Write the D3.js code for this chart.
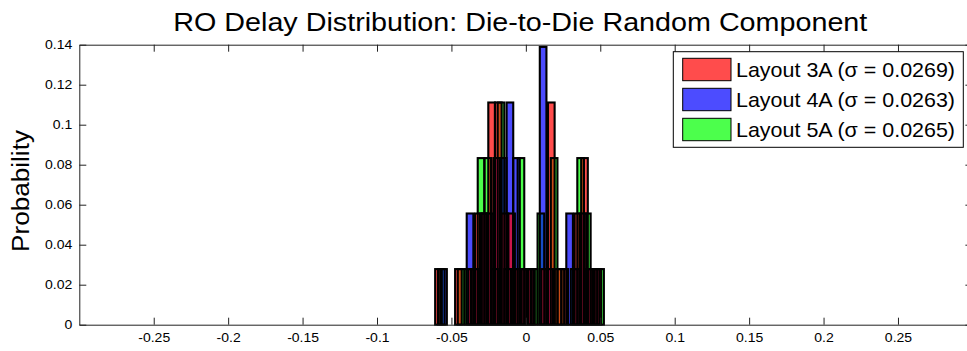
<!DOCTYPE html>
<html>
<head>
<meta charset="utf-8">
<script src="https://cdn.jsdelivr.net/npm/d3@7"></script>
<style>
  html, body { margin: 0; padding: 0; background: #fff; }
  svg { display: block; font-family: "Liberation Sans", Arial, Helvetica, sans-serif; }
</style>
</head>
<body>
<svg id="chart" width="967" height="351"></svg>
<script>
// ---- chart text ----
const titleText = "RO Delay Distribution: Die-to-Die Random Component";
const yLabelText = "Probability";
const seriesNames = ["Layout 3A (\u03c3 = 0.0269)", "Layout 4A (\u03c3 = 0.0263)", "Layout 5A (\u03c3 = 0.0265)"];
const seriesColors = ["#ff0000", "#0000ff", "#00ff00"];

// ---- axis ticks ----
const xTicks = [-0.25, -0.2, -0.15, -0.1, -0.05, 0, 0.05, 0.1, 0.15, 0.2, 0.25];
const yTicks = [0, 0.02, 0.04, 0.06, 0.08, 0.1, 0.12, 0.14];

// ---- histogram bins (bin centre, probability) for each layout ----
const binWidth = 0.00446;

const centers3A = [-0.0587, -0.0453, -0.0364, -0.0319, -0.0275, -0.0230, -0.0185, -0.0141, -0.0096, -0.0052,
                   -0.0007, 0.0038, 0.0127, 0.0171, 0.0216, 0.0261, 0.0350, 0.0394, 0.0439, 0.0484];
const prob3A    = [0.0278, 0.0278, 0.0278, 0.0556, 0.0556, 0.1111, 0.1111, 0.0556, 0.0556, 0.0278,
                   0.0278, 0.0278, 0.0278, 0.1111, 0.0278, 0.0278, 0.0556, 0.0833, 0.0278, 0.0278];

const centers4A = [-0.0553, -0.0375, -0.0330, -0.0286, -0.0241, -0.0196, -0.0152, -0.0107, -0.0063,
                   -0.0018, 0.0027, 0.0116, 0.0160, 0.0294, 0.0339, 0.0383, 0.0428, 0.0473];
const prob4A    = [0.0278, 0.0556, 0.0278, 0.0556, 0.0556, 0.0833, 0.0833, 0.1111, 0.0833,
                   0.0278, 0.0278, 0.1389, 0.0278, 0.0556, 0.0278, 0.0556, 0.0278, 0.0278];

const centers5A = [-0.0568, -0.0435, -0.0390, -0.0345, -0.0301, -0.0256, -0.0211, -0.0167, -0.0122, -0.0078,
                   -0.0033, 0.0012, 0.0056, 0.0101, 0.0190, 0.0235, 0.0324, 0.0368, 0.0413, 0.0458, 0.0502];
const prob5A    = [0.0278, 0.0278, 0.0278, 0.0278, 0.0833, 0.0833, 0.0278, 0.1111, 0.0278, 0.0278,
                   0.0833, 0.0278, 0.0278, 0.0556, 0.0833, 0.0278, 0.0278, 0.0833, 0.0556, 0.0278, 0.0278];

const seriesCenters = [centers3A, centers4A, centers5A];
const seriesProbs = [prob3A, prob4A, prob5A];

// ---- layout ----
const plot = { left: 79.3, right: 972.4, top: 44.7, bottom: 324.7 };

const svg = d3.select("#chart");

const x = d3.scaleLinear().domain([-0.3, 0.3]).range([plot.left, plot.right]);
const y = d3.scaleLinear().domain([0, 0.14]).range([plot.bottom, plot.top]);

// stretch a text node horizontally by a factor (the figure's fonts render wide)
function widen(sel, factor) {
  sel.each(function () {
    const L = this.getComputedTextLength();
    this.setAttribute("textLength", (L * factor).toFixed(1));
    this.setAttribute("lengthAdjust", "spacingAndGlyphs");
  });
}

// ---- bars: translucent fills (5A, 4A, then 3A on top), edges drawn over all ----
const bars = [];
[2, 1, 0].forEach(si => {
  seriesCenters[si].forEach((c, i) => bars.push({ s: si, c: c, p: seriesProbs[si][i] }));
});

const barX = d => x(d.c - binWidth / 2);
const barW = d => x(d.c + binWidth / 2) - x(d.c - binWidth / 2);

const barG = svg.append("g");
barG.selectAll("rect.fill")
  .data(bars)
  .join("rect")
  .attr("class", "fill")
  .attr("x", barX)
  .attr("width", barW)
  .attr("y", d => y(d.p))
  .attr("height", d => y(0) - y(d.p))
  .attr("fill", d => seriesColors[d.s])
  .attr("fill-opacity", 0.7);

barG.selectAll("rect.edge")
  .data(bars)
  .join("rect")
  .attr("class", "edge")
  .attr("x", barX)
  .attr("width", barW)
  .attr("y", d => y(d.p))
  .attr("height", d => y(0) - y(d.p))
  .attr("fill", "none")
  .attr("stroke", "#000")
  .attr("stroke-width", 2.1);

// ---- axes (ticks point inward, box on all four sides) ----
const fmt = d => (d === 0 ? "0" : String(+d.toFixed(2)));
const tickLen = 7;

const gB = svg.append("g").attr("transform", `translate(0,${plot.bottom})`)
  .call(d3.axisBottom(x).tickValues(xTicks).tickFormat(fmt).tickSizeInner(-tickLen).tickSizeOuter(0).tickPadding(10));
const gT = svg.append("g").attr("transform", `translate(0,${plot.top})`)
  .call(d3.axisTop(x).tickValues(xTicks).tickFormat("").tickSizeInner(-tickLen).tickSizeOuter(0));
const gL = svg.append("g").attr("transform", `translate(${plot.left},0)`)
  .call(d3.axisLeft(y).tickValues(yTicks).tickFormat(fmt).tickSizeInner(-tickLen).tickSizeOuter(0).tickPadding(7));
const gR = svg.append("g").attr("transform", `translate(${plot.right},0)`)
  .call(d3.axisRight(y).tickValues(yTicks).tickFormat("").tickSizeInner(-tickLen).tickSizeOuter(0));

[gB, gT, gL, gR].forEach(g => {
  g.select(".domain").attr("stroke", "#222").attr("stroke-width", 1);
  g.selectAll(".tick line").attr("stroke", "#222").attr("stroke-width", 1);
  g.selectAll("text").attr("fill", "#000").attr("font-size", 12.5)
    .attr("font-family", "'Liberation Sans', Arial, sans-serif");
});
gB.selectAll(".tick text").attr("y", 8).attr("dy", "0.71em");
widen(gB.selectAll(".tick text"), 1.12);
widen(gL.selectAll(".tick text"), 1.12);

// ---- title ----
svg.append("text")
  .attr("x", 173.3).attr("y", 31)
  .attr("font-size", 25)
  .attr("fill", "#000")
  .attr("textLength", 694).attr("lengthAdjust", "spacingAndGlyphs")
  .text(titleText);

// ---- y axis label ----
svg.append("text")
  .attr("transform", "translate(29,191) rotate(-90)")
  .attr("text-anchor", "middle")
  .attr("font-size", 23)
  .attr("fill", "#000")
  .attr("textLength", 122).attr("lengthAdjust", "spacingAndGlyphs")
  .text(yLabelText);

// ---- legend ----
const leg = { x: 673.3, y: 51.7, w: 290, h: 95.6 };
const legG = svg.append("g");
legG.append("rect")
  .attr("x", leg.x).attr("y", leg.y).attr("width", leg.w).attr("height", leg.h)
  .attr("fill", "#fff").attr("stroke", "#000").attr("stroke-width", 1);

const rowY = d3.scalePoint().domain(seriesNames).range([58.3, 118.3]);
const rows = legG.selectAll("g.row").data(seriesNames).join("g").attr("class", "row");
rows.append("rect")
  .attr("x", 682.7).attr("y", d => rowY(d))
  .attr("width", 48.3).attr("height", 22.4)
  .attr("fill", (d, i) => seriesColors[i]).attr("fill-opacity", 0.7)
  .attr("stroke", "#000").attr("stroke-width", 1);
rows.append("text")
  .attr("x", 736).attr("y", d => rowY(d) + 18.5)
  .attr("font-size", 21).attr("fill", "#000")
  .attr("textLength", 219).attr("lengthAdjust", "spacingAndGlyphs")
  .text(d => d);
</script>
</body>
</html>
